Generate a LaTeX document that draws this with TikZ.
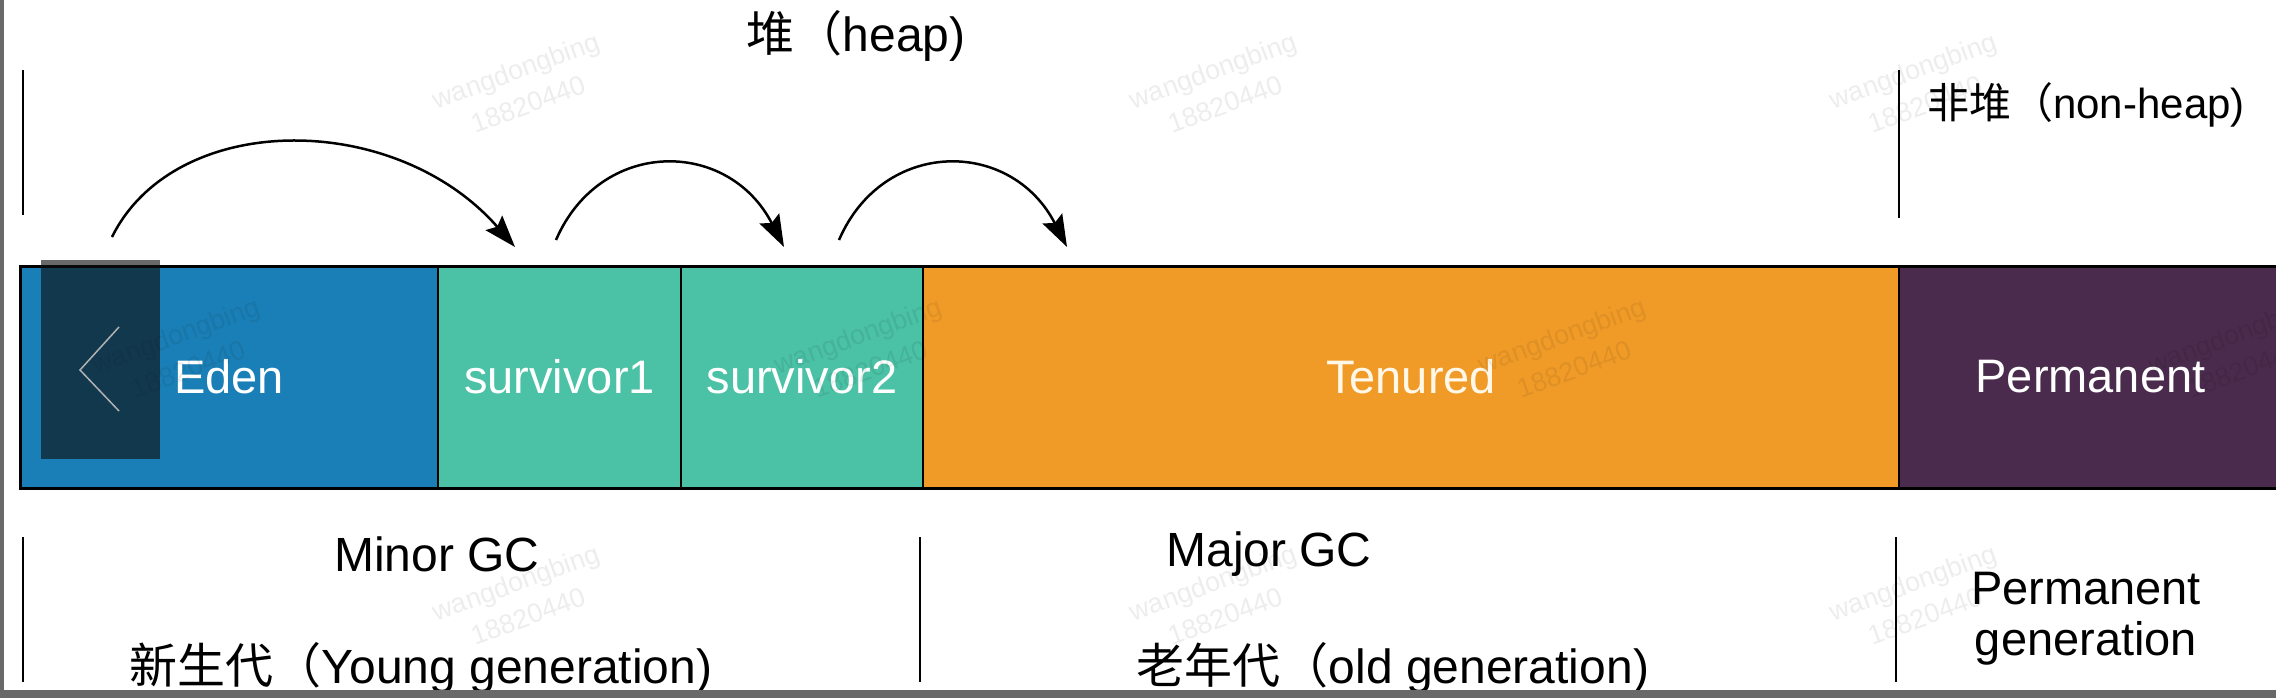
\documentclass[tikz,border=0pt]{standalone}
\usepackage{fontspec}
\setmainfont{Liberation Sans}
\newfontfamily\cjk{Noto Sans CJK SC}
\usetikzlibrary{arrows.meta}
\definecolor{edenblue}{RGB}{26,127,182}
\definecolor{survteal}{RGB}{75,193,166}
\definecolor{tenorange}{RGB}{240,155,40}
\definecolor{permpurple}{RGB}{74,43,77}
\definecolor{framegray}{RGB}{105,105,105}
\begin{document}
\begin{tikzpicture}[x=1pt,y=-1pt,
  seg/.style={draw=black, line width=2pt, minimum height=222pt, inner sep=0pt, outer sep=0pt,
    text=white, font=\fontsize{47}{56}\selectfont, anchor=west},
  lbl/.style={inner sep=0pt, text=black, font=\fontsize{48}{58}\selectfont, align=center},
  sepline/.style={line width=2.5pt, black},
  gcarc/.style={line width=2.5pt, -{Stealth[length=32pt,width=22pt,inset=5pt]}},
  wm/.style={font=\fontsize{27}{36}\selectfont, text=black, text opacity=0.07, rotate=20, align=center, inner sep=0pt}]
\useasboundingbox (0,0) rectangle (2276,698);
\clip (0,0) rectangle (2276,698);
\fill[white] (0,0) rectangle (2276,698);

% top labels and separators
\node[lbl] (heap) at (856,36) {{\cjk 堆（}heap)};
\node[lbl, font=\fontsize{42}{50}\selectfont] (nonheap) at (2086,105) {{\cjk 非堆（}non-heap)};
\draw[sepline] (23,70) -- (23,215);
\draw[sepline] (1899,70) -- (1899,218);

% bar
\node[seg, fill=edenblue, minimum width=418pt] (eden) at (20,377) {Eden};
\node[seg, fill=survteal, minimum width=243pt] (s1) at (eden.east) {survivor1};
\node[seg, fill=survteal, minimum width=242pt] (s2) at (s1.east) {survivor2};
\node[seg, fill=tenorange, minimum width=976pt, text={rgb,255:red,255;green,248;blue,232}] (ten) at (s2.east) {Tenured};
\node[seg, fill=permpurple, minimum width=383pt] (perm) at (ten.east) {Permanent};
\draw[line width=3pt] (eden.north west) rectangle (perm.south east);

% arcs
\coordinate (a1s) at (112,237);
\coordinate (a1e) at (515,247);
\coordinate (a2s) at (556,240);
\coordinate (a2e) at (784,247);
\coordinate (a3s) at (839,240);
\coordinate (a3e) at (1067,247);
\draw[gcarc] (a1s) .. controls (175,110) and (395,110) .. (a1e);
\draw[gcarc] (a2s) .. controls (600,138) and (728,138) .. (a2e);
\draw[gcarc] (a3s) .. controls (883,138) and (1011,138) .. (a3e);

% bottom labels and separators
\draw[sepline] (23,537) -- (23,682);
\draw[sepline] (920,537) -- (920,682);
\draw[sepline] (1896,537) -- (1896,682);
\node[lbl] (minor) at (437,554) {Minor GC};
\node[lbl] (major) at (1269,554) {Major GC};
\node[lbl] (young) at (421,668) {{\cjk 新生代（}Young generation)};
\node[lbl] (old) at (1393,668) {{\cjk 老年代（}old generation)};
\node[lbl, font=\fontsize{47}{51}\selectfont] (permgen) at (2086,619) {Permanent\\generation};

% watermarks
\foreach \wx/\wy in {522/87, 1219/87, 1919/87, 182/352, 864/352, 1568/352, 2238/352, 522/599, 1219/599, 1919/599}
  \node[wm] at (\wx,\wy) {wangdongbing\\18820440};

% screen overlay
\fill[black!95, opacity=0.62] (41,260) rectangle (160,459);
\draw[gray!60, line width=1.5pt] (119,327) -- (80,370) -- (119,411);
\fill[framegray] (0,0) rectangle (4,698);
\fill[framegray] (0,690) rectangle (2276,698);
\end{tikzpicture}
\end{document}
